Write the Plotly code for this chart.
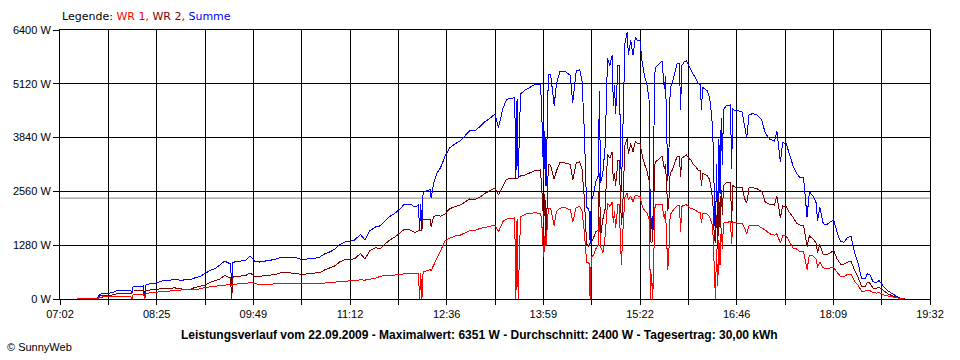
import plotly.graph_objects as go

# ---------------- data ----------------
TIMES = [
    "07:17", "07:28", "07:35", "07:36", "07:41", "07:47", "07:51", "07:55", "08:00", "08:03",
    "08:04", "08:05", "08:09", "08:14", "08:15", "08:16", "08:20", "08:24", "08:28", "08:33",
    "08:37", "08:41", "08:45", "08:50", "08:54", "08:58",
    "09:03", "09:07", "09:11", "09:16", "09:20", "09:24", "09:29", "09:30", "09:31", "09:33",
    "09:37", "09:42", "09:46", "09:50", "09:54", "09:59",
    "10:03", "10:07", "10:12", "10:16", "10:20", "10:25", "10:29", "10:33", "10:38", "10:42",
    "10:46", "10:50", "10:55", "10:59",
    "11:03", "11:08", "11:12", "11:16", "11:21", "11:25", "11:29", "11:34", "11:38", "11:42",
    "11:46", "11:51", "11:55", "11:59",
    "12:04", "12:08", "12:11", "12:12", "12:13", "12:14", "12:15", "12:17", "12:21", "12:22",
    "12:24", "12:27", "12:30", "12:34", "12:38", "12:43", "12:47", "12:51", "12:55",
    "13:00", "13:04", "13:08", "13:13", "13:17", "13:20", "13:24", "13:27", "13:32", "13:34",
    "13:35", "13:36", "13:37", "13:39", "13:43", "13:47", "13:51", "13:56", "13:57", "13:59",
    "14:00", "14:01", "14:03", "14:05", "14:08", "14:10", "14:13", "14:17", "14:22", "14:24",
    "14:27", "14:30", "14:32", "14:34", "14:36", "14:38", "14:39", "14:40", "14:42", "14:44",
    "14:46", "14:47", "14:48", "14:50", "14:52", "14:54", "14:56", "14:58", "14:59",
    "15:00", "15:01", "15:03", "15:04", "15:06", "15:07", "15:09", "15:11", "15:12", "15:14",
    "15:16", "15:18", "15:20", "15:22", "15:24", "15:26", "15:28", "15:30", "15:31", "15:32",
    "15:33", "15:34", "15:35", "15:37", "15:39", "15:41", "15:43", "15:44", "15:46", "15:47",
    "15:48", "15:50", "15:52", "15:54", "15:56", "15:57", "15:58",
    "16:00", "16:02", "16:04", "16:06", "16:08", "16:10", "16:12", "16:14", "16:15", "16:16",
    "16:18", "16:20", "16:22", "16:24", "16:25", "16:26", "16:27", "16:28", "16:29", "16:30",
    "16:31", "16:32", "16:33", "16:34", "16:36", "16:38", "16:40", "16:41", "16:42", "16:44",
    "16:47", "16:50", "16:52", "16:54", "16:56", "16:59",
    "17:03", "17:07", "17:10", "17:14", "17:18", "17:20", "17:23", "17:25", "17:28", "17:31",
    "17:34", "17:37", "17:40", "17:43", "17:46", "17:48", "17:51", "17:54", "17:55", "17:57",
    "18:00", "18:03", "18:06", "18:09", "18:12", "18:15", "18:18", "18:21", "18:24", "18:27",
    "18:30", "18:33", "18:36", "18:38", "18:40", "18:43", "18:46", "18:48", "18:50", "18:53",
    "18:56", "18:59", "19:02", "19:05", "19:08", "19:10",
]

WR1_W = [
    0, 5, 10, 45, 50, 55, 70, 70, 70, 70,
    0, 110, 110, 115, 0, 130, 150, 150, 175, 190,
    190, 195, 210, 225, 225, 230,
    240, 275, 285, 300, 330, 340, 335, 330, 345, 355,
    360, 360, 400, 370, 340, 350,
    355, 360, 370, 365, 370, 375, 360, 355, 360, 360,
    370, 380, 385, 400,
    410, 425, 440, 445, 455, 450, 470, 495, 540, 560,
    560, 565, 580, 600,
    615, 610, 615, 0, 620, 0, 640, 660, 700, 680,
    800, 1000, 1150, 1380, 1450, 1500, 1520, 1580, 1620,
    1630, 1680, 1700, 1730, 1760, 1600, 1850, 1900, 1920, 1930,
    0, 1900, 0, 1950, 2020, 2040, 2050, 2040, 1950, 1000,
    1500, 1280, 2150, 2160, 1750, 2080, 2160, 2180, 2120, 1830,
    2180, 2200, 2100, 1600, 880, 880, 0, 1000, 1050, 1200,
    1280, 1950, 1250, 1100, 1500, 2280, 2200, 2300, 1800,
    2100, 1700, 2250, 2250, 800, 1500, 2430, 2520, 2350, 2450,
    2300, 2470, 2450, 2450, 2200, 2100, 2050, 1900, 0, 600,
    0, 1500, 2235, 2250, 2260, 2250, 1900, 2100, 700, 1200,
    2000, 2095, 2150, 2215, 2220, 1600, 2200,
    2235, 2240, 2200, 2150, 2140, 2100, 2070, 2050, 1800, 2040,
    2030, 2020, 1950, 1800, 1500, 600, 0, 1200, 300, 1400,
    800, 1700, 1200, 1800, 1830, 1830, 1840, 1300, 1830, 1810,
    1810, 1800, 1700, 1560, 1740, 1760,
    1760, 1700, 1640, 1550, 1520, 1550, 1330, 1500, 1500, 1350,
    1210, 1190, 1120, 1120, 700, 1045, 1030, 950, 750, 880,
    740, 720, 740, 740, 620, 530, 525, 590, 595, 420,
    330, 190, 190, 210, 200, 150, 140, 150, 130, 90,
    70, 50, 30, 10, 3, 0,
]

WR2_W = [
    0, 10, 15, 70, 85, 95, 125, 125, 130, 130,
    135, 190, 190, 195, 0, 200, 215, 215, 240, 255,
    260, 265, 240, 225, 230, 270,
    300, 330, 390, 430, 480, 560, 500, 0, 520, 530,
    540, 560, 620, 530, 540, 560,
    565, 580, 620, 625, 620, 615, 590, 590, 600, 610,
    630, 690, 740, 790,
    880, 940, 930, 960, 1080, 950, 1150, 1220, 1200, 1300,
    1400, 1480, 1560, 1660,
    1640, 1580, 1620, 1630, 1630, 1640, 1890, 1900, 1900, 1720,
    1950, 2000, 1970, 2020, 2150, 2200, 2240, 2300, 2380,
    2370, 2420, 2510, 2580, 2640, 2480, 2700, 2850, 2870, 2860,
    2860, 2870, 2880, 2930, 2950, 3000, 3050, 3070, 2780, 1800,
    2500, 1400, 3200, 3180, 2850, 3050, 3250, 3240, 3200, 2830,
    3240, 3260, 3100, 2400, 1300, 1250, 1330, 1330, 1450, 1600,
    1650, 3000, 1500, 1900, 2150, 3450, 3350, 3500, 2800,
    3000, 2700, 3300, 3300, 1750, 2100, 3650, 3831, 3450, 3700,
    3500, 3750, 3690, 3700, 3400, 3200, 3050, 2800, 1400, 1330,
    1400, 2500, 3260, 3300, 3355, 3400, 3100, 3200, 2100, 2400,
    3000, 3070, 3250, 3380, 3380, 2900, 3350,
    3400, 3430, 3350, 3300, 3200, 3150, 3070, 3050, 2700, 3000,
    2960, 2930, 2850, 2500, 2200, 1500, 1330, 2000, 1200, 2400,
    1700, 2600, 2000, 2700, 2760, 2770, 2780, 1800, 2700, 2665,
    2665, 2650, 2400, 2280, 2640, 2650,
    2620, 2560, 2300, 2250, 2235, 2450, 1930, 2215, 2200, 2050,
    1950, 1800, 1760, 1760, 1250, 1500, 1430, 1330, 1100, 1300,
    1050, 1050, 1100, 1150, 950, 830, 830, 880, 890, 680,
    520, 300, 290, 390, 380, 260, 250, 290, 240, 170,
    120, 80, 50, 20, 5, 0,
]

X_TICK_LABELS = ["07:02", "08:25", "09:49", "11:12", "12:36",
                 "13:59", "15:22", "16:46", "18:09", "19:32"]
Y_TICKS_W = [0, 1280, 2560, 3840, 5120, 6400]
AVERAGE_W = 2400
TITLE = ("Leistungsverlauf vom 22.09.2009 - Maximalwert: 6351 W - "
         "Durchschnitt: 2400 W - Tagesertrag: 30,00 kWh")
SERIES_NAMES = ["WR 1", "WR 2", "Summe"]

# ---------------- derived ----------------
def to_min(s):
    h, m = s.split(":")
    return int(h) * 60 + int(m)

n = min(len(TIMES), len(WR1_W), len(WR2_W))
x = [to_min(t) for t in TIMES[:n]]
wr1 = WR1_W[:n]
wr2 = WR2_W[:n]
summe = [a + b for a, b in zip(wr1, wr2)]

x0 = to_min(X_TICK_LABELS[0])
x1 = to_min(X_TICK_LABELS[-1])
nint = 2 * (len(X_TICK_LABELS) - 1)
step = (x1 - x0) / nint
tickvals = [x0 + i * step for i in range(nint + 1)]
ticktext = [X_TICK_LABELS[i // 2] if i % 2 == 0 else "" for i in range(nint + 1)]

FONT = "Liberation Sans, Arial, sans-serif"
WIDE = "DejaVu Sans, Verdana, sans-serif"
RED, DARKRED, BLUE = "#FF0000", "#800000", "#0000FF"

fig = go.Figure()
fig.add_trace(go.Scatter(x=x, y=summe, mode="lines", name=SERIES_NAMES[2],
                         line=dict(color=BLUE, width=1), hoverinfo="skip"))
fig.add_trace(go.Scatter(x=x, y=wr2, mode="lines", name=SERIES_NAMES[1],
                         line=dict(color=DARKRED, width=1), hoverinfo="skip"))
fig.add_trace(go.Scatter(x=x, y=wr1, mode="lines", name=SERIES_NAMES[0],
                         line=dict(color=RED, width=1), hoverinfo="skip"))

fig.add_shape(type="line", xref="x", yref="y", x0=x0, x1=x1,
              y0=AVERAGE_W, y1=AVERAGE_W,
              line=dict(color="#808080", width=1), layer="below")

axis_common = dict(showgrid=True, gridcolor="black", gridwidth=1,
                   showline=True, linecolor="black", linewidth=1, mirror=True,
                   ticks="outside", tickcolor="black", tickwidth=1,
                   zeroline=False, automargin=False,
                   tickfont=dict(family=FONT, size=11, color="black"))

fig.update_xaxes(range=[x0, x1], tickmode="array", tickvals=tickvals,
                 ticktext=ticktext, ticklen=5, **axis_common)
fig.update_yaxes(range=[0, Y_TICKS_W[-1]], tickmode="array", tickvals=Y_TICKS_W,
                 ticktext=[f"{v} W" for v in Y_TICKS_W], ticklen=6, **axis_common)

legend_html = ("Legende: "
               f"<span style='color:{RED}'>{SERIES_NAMES[0]},</span> "
               f"<span style='color:{DARKRED}'>{SERIES_NAMES[1]},</span> "
               f"<span style='color:{BLUE}'>{SERIES_NAMES[2]}</span>")

fig.update_layout(
    width=960, height=360,
    margin=dict(l=60, r=30, t=30, b=61),
    paper_bgcolor="white", plot_bgcolor="white",
    showlegend=False,
    font=dict(family=FONT, size=11, color="black"),
    annotations=[
        dict(text=legend_html, xref="paper", yref="paper", x=0, y=1 + 13 / 269,
             xanchor="left", yanchor="middle", showarrow=False,
             font=dict(family=WIDE, size=11, color="black")),
        dict(text=f"<b>{TITLE}</b>", xref="paper", yref="paper",
             x=(479 - 60) / 870, y=-36 / 269, xanchor="center", yanchor="middle",
             showarrow=False, font=dict(family=FONT, size=12, color="black")),
        dict(text="© SunnyWeb", xref="paper", yref="paper",
             x=(5 - 60) / 870, y=-48 / 269, xanchor="left", yanchor="middle",
             showarrow=False, font=dict(family=FONT, size=11, color="black")),
    ],
)

fig.write_html(
    "out.html",
    config={"displayModeBar": False, "staticPlot": True},
    post_script=("document.body.style.margin='0';"
                 "document.body.style.overflow='hidden';"
                 "document.querySelectorAll('.scatterlayer path.js-line')"
                 ".forEach(function(p){p.style.shapeRendering='crispEdges';});"),
)
